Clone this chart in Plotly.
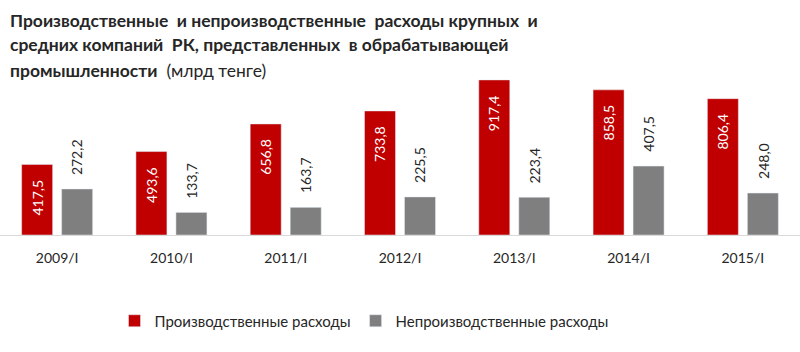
import plotly.graph_objects as go

categories = ["2009/I", "2010/I", "2011/I", "2012/I", "2013/I", "2014/I", "2015/I"]
prod = [417.5, 493.6, 656.8, 733.8, 917.4, 858.5, 806.4]
nonprod = [272.2, 133.7, 163.7, 225.5, 223.4, 407.5, 248.0]
series_names = ["Производственные расходы", "Непроизводственные расходы"]
title_lines = ["<b>Производственные  и непроизводственные  расходы крупных  и</b>",
               "<b>средних компаний  РК, представленных  в обрабатывающей</b>",
               "<b>промышленности</b>  (млрд тенге)"]

RED = "#C00000"
GRAY = "#7F7F7F"
FONT = "Lato"
PLOT_TOP, PLOT_BOTTOM = 70, 235
PH = PLOT_BOTTOM - PLOT_TOP

def fmt(v):
    return f"{v:.1f}".replace(".", ",")

def py(pix):
    return (PLOT_BOTTOM - pix) / PH

fig = go.Figure()
fig.add_bar(x=categories, y=prod, name=series_names[0], marker_color=RED)
fig.add_bar(x=categories, y=nonprod, name=series_names[1], marker_color=GRAY)

ann = []
for c, v in zip(categories, prod):
    ann.append(dict(x=c, y=v, xref="x", yref="y", text=fmt(v), showarrow=False,
                    textangle=-90, xshift=-20, yshift=-13, yanchor="top",
                    font=dict(family=FONT, size=14, color="white")))
for c, v in zip(categories, nonprod):
    ann.append(dict(x=c, y=v, xref="x", yref="y", text=fmt(v), showarrow=False,
                    textangle=-90, xshift=20, yshift=12, yanchor="bottom",
                    font=dict(family=FONT, size=14, color="#262626")))
for i, line in enumerate(title_lines):
    ann.append(dict(x=0.01, y=py(20 + 25 * i), xref="paper", yref="paper",
                    xanchor="left", yanchor="middle", text=line, align="left",
                    showarrow=False, font=dict(family=FONT, size=17.5, color="#262626")))
fig.update_layout(annotations=ann)

fig.update_layout(
    width=800, height=352,
    margin=dict(l=0, r=0, t=PLOT_TOP, b=352 - PLOT_BOTTOM),
    paper_bgcolor="white", plot_bgcolor="white",
    barmode="group", bargap=0.3, bargroupgap=0.225,
    font=dict(family=FONT, size=13, color="#262626"),
    showlegend=True,
    legend=dict(orientation="h", x=0.455, xanchor="center", y=py(321), yanchor="middle",
                font=dict(family=FONT, size=15, color="#262626"), itemwidth=30,
                traceorder="normal"),
    xaxis=dict(showline=True, linecolor="#D9D9D9", linewidth=1, ticks="",
               ticklabelstandoff=10, tickfont=dict(family=FONT, size=14, color="#262626"),
               showgrid=False),
    yaxis=dict(range=[0, 976], visible=False, showgrid=False),
)

fig.write_html("out.html")
